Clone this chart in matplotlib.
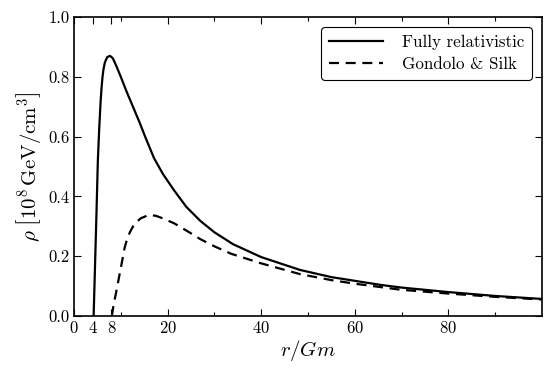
import matplotlib
matplotlib.use("Agg")
import matplotlib.pyplot as plt
from matplotlib.ticker import FixedLocator

# --- data ---
r_full = [4.2, 4.5, 4.8, 5.1, 5.4, 5.7, 5.9, 6.1, 6.3, 6.6, 7.1, 7.7, 8.3,
          9.0, 10.0, 11.2, 12.6, 14.0, 15.2, 17.1, 19.0, 21.4, 24.0, 27.0,
          30.0, 34.0, 40.0, 48.3, 55.0, 65.5, 70.0, 80.0, 90.0, 100.0]
rho_full = [0.0, 0.17, 0.34, 0.52, 0.63, 0.72, 0.765, 0.80, 0.825, 0.848,
            0.866, 0.870, 0.862, 0.838, 0.80, 0.752, 0.70, 0.648, 0.60,
            0.528, 0.475, 0.42, 0.365, 0.318, 0.28, 0.24, 0.197, 0.154,
            0.13, 0.104, 0.095, 0.08, 0.067, 0.057]

r_gs = [8.1, 8.4, 9.1, 10.0, 10.8, 11.4, 12.0, 13.0, 14.3, 16.0, 17.5, 18.9,
        21.4, 24.2, 27.0, 30.0, 33.6, 40.0, 48.3, 55.0, 60.0, 69.7, 80.0,
        90.0, 100.0]
rho_gs = [0.0, 0.031, 0.087, 0.16, 0.227, 0.26, 0.282, 0.31, 0.327, 0.338,
          0.335, 0.327, 0.31, 0.284, 0.257, 0.233, 0.208, 0.176, 0.14, 0.12,
          0.108, 0.088, 0.075, 0.064, 0.055]

xticks_major = [0, 4, 8, 20, 40, 60, 80]
xticks_minor = [10, 30, 50, 70, 90]
yticks = [0.0, 0.2, 0.4, 0.6, 0.8, 1.0]

# computer-modern look
plt.rcParams['font.family'] = ['cmr10', 'DejaVu Serif']
plt.rcParams['mathtext.fontset'] = 'cm'
plt.rcParams['axes.formatter.use_mathtext'] = True

fig = plt.figure(figsize=(5.55, 3.76), dpi=100)
ax = fig.add_axes([0.1333, 0.1596, 0.8433, 0.7952])

ax.plot(r_full, rho_full, color='black', lw=1.6, label='Fully relativistic')
ax.plot(r_gs, rho_gs, color='black', lw=1.6, ls=(0, (4.5, 3.0)),
        label='Gondolo & Silk')

ax.set_xlim(0, 100)
ax.set_ylim(0, 1.0)
ax.xaxis.set_major_locator(FixedLocator(xticks_major))
ax.xaxis.set_minor_locator(FixedLocator(xticks_minor))
ax.set_yticks(yticks)
ax.set_yticklabels([f"{v:.1f}" for v in yticks])

ax.tick_params(which='both', direction='in', top=True, right=True,
               labelsize=12, width=0.8)
ax.tick_params(which='major', length=5, pad=3)
ax.tick_params(which='minor', length=3)
for s in ax.spines.values():
    s.set_linewidth(1.2)

ax.set_xlabel(r'$r/Gm$', fontsize=15, labelpad=1)
ax.set_ylabel(r'$\rho\ \left[10^8\,\mathrm{GeV/cm}^3\right]$', fontsize=15,
              labelpad=4)

leg = ax.legend(loc='upper right', fontsize=12.2, handlelength=3.2,
                handletextpad=1.1, borderpad=0.45, labelspacing=0.4,
                borderaxespad=0.6, fancybox=True, edgecolor='black',
                framealpha=1)
leg.get_frame().set_linewidth(0.8)

fig.savefig('out.png', dpi=100)
